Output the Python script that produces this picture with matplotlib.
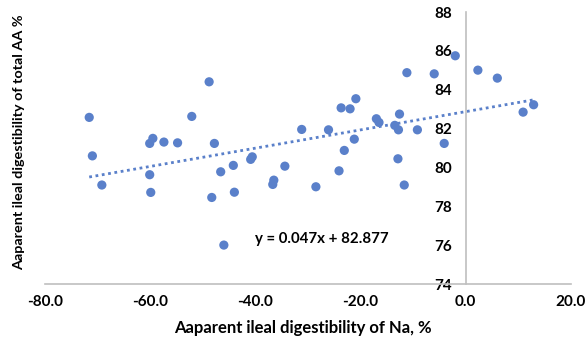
import matplotlib
matplotlib.use("Agg")
import matplotlib.pyplot as plt
import numpy as np

plt.rcParams['font.family'] = ['Lato', 'DejaVu Sans']

na_digest = [-71.6, -71.0, -69.2, -48.8, -52.1, -60.1, -59.5, -57.4, -54.8, -47.8,
             -60.1, -59.9, -48.3, -46.6, -44.2, -44.0, -46.0, -40.9, -40.6, -36.7,
             -36.5, -34.4, -31.2, -28.5, -26.1, -24.1, -23.1, -21.2, -23.7, -22.0,
             -20.9, -17.0, -16.5, -13.5, -12.8, -12.6, -12.9, -11.7, -11.2, -9.2,
             -6.0, -4.1, -2.0, 2.3, 6.0, 10.9, 12.9]
aa_digest = [82.58, 80.60, 79.10, 84.41, 82.63, 81.24, 81.50, 81.31, 81.27, 81.24,
             79.63, 78.72, 78.46, 79.78, 80.11, 78.73, 76.01, 80.42, 80.55, 79.13,
             79.35, 80.07, 81.96, 79.01, 81.94, 79.83, 80.88, 81.46, 83.07, 83.02,
             83.54, 82.51, 82.32, 82.17, 81.94, 82.75, 80.45, 79.10, 84.88, 81.94,
             84.82, 81.24, 85.75, 85.01, 84.60, 82.85, 83.23]
slope = 0.047
intercept = 82.877
x_ticks = [-80, -60, -40, -20, 0, 20]
y_ticks = [74, 76, 78, 80, 82, 84, 86, 88]

fig = plt.figure(figsize=(5.85, 3.44), dpi=100)
ax = fig.add_axes([0.077, 0.174, 0.899, 0.791])

blue = '#5A80CA'
ax.scatter(na_digest, aa_digest, s=44, color=blue, edgecolors='none', zorder=3)

xs = np.array([min(na_digest), max(na_digest)])
ax.plot(xs, slope * xs + intercept, linestyle=(0, (1, 1.3)), color=blue, lw=2, zorder=2)

ax.set_xlim(-80, 20)
ax.set_ylim(74, 88)
ax.set_xticks(x_ticks)
ax.set_xticklabels([f"{v:.1f}" for v in x_ticks])
ax.set_yticks(y_ticks)

for s in ['top', 'right']:
    ax.spines[s].set_visible(False)
ax.spines['left'].set_position(('data', 0))
ax.spines['left'].set_color('#bfbfbf')
ax.spines['bottom'].set_color('#bfbfbf')
ax.spines['left'].set_linewidth(1.2)
ax.spines['bottom'].set_linewidth(1.2)

ax.tick_params(axis='both', length=0, labelsize=11)
ax.tick_params(axis='y', pad=10)
ax.tick_params(axis='x', pad=8)
for lbl in ax.get_xticklabels() + ax.get_yticklabels():
    lbl.set_fontweight('bold')

ax.text(-40.0, 76.32, "y = 0.047x + 82.877", fontsize=10.8, fontweight='bold', va='center', ha='left')

fig.text(0.518, 0.047, "Aaparent ileal digestibility of Na, %", fontsize=12, fontweight='bold', ha='center', va='center')
fig.text(0.032, 0.586, "Aaparent ileal digestibility of total AA %", fontsize=10.4, fontweight='bold',
         ha='center', va='center', rotation=90)

fig.savefig("out.png", dpi=100)
